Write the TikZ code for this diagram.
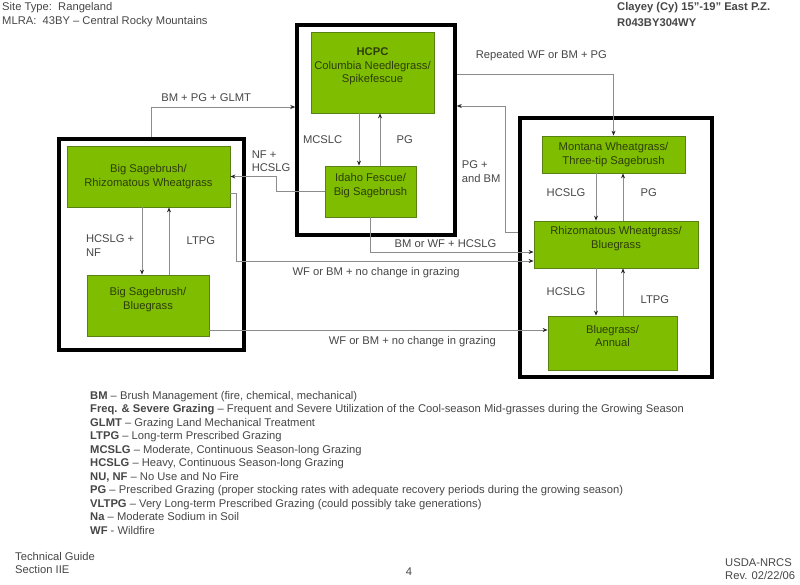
\documentclass[tikz,border=0pt]{standalone}
\usepackage{fontspec}
\setmainfont{Liberation Sans}
\usepackage{tikz}
\usetikzlibrary{arrows.meta,positioning}
\definecolor{boxgreen}{RGB}{127,189,0}
\definecolor{boxedge}{RGB}{88,128,18}
\definecolor{boxtext}{RGB}{45,62,8}
\definecolor{linegray}{RGB}{140,140,140}
\definecolor{labelgray}{RGB}{70,70,70}
\newcommand{\stmfont}{\fontsize{11.2}{13.5}\selectfont}
\tikzset{>={Stealth[length=5pt,width=4pt,color=black!85]},
	every node/.style={font=\stmfont}}
\tikzstyle{state}=[draw=black, line width=3.5pt, inner sep=0pt]
\tikzstyle{community}=[draw=boxedge, fill=boxgreen, text=boxtext, align=center,
inner sep=2pt, text depth=14pt, line width=0.8pt]
\tikzstyle{move}=[draw=linegray, line width=0.8pt, text=labelgray, ->]
\tikzstyle{note}=[text=labelgray, inner sep=0pt]

\begin{document}
\begin{tikzpicture}[x=1pt,y=-1pt]
	\useasboundingbox (0,0) rectangle (800,585);
	\node[note, anchor=west] (site) at (2,8) {Site Type:\ \ Rangeland};
	\node[note, anchor=west] (mlra) at (2,22) {MLRA:\ \ 43BY – Central Rocky Mountains};
	\node[note, anchor=west, font=\stmfont\bfseries] (soil) at (617,8) {Clayey (Cy) 15”-19” East P.Z.};
	\node[note, anchor=west, font=\stmfont\bfseries] (esd) at (617,23) {R043BY304WY};
	
	\node[state, minimum width=158, minimum height=210] (hcpcstate) at (376,130) {};
	\node[state, minimum width=185, minimum height=211] (sagestate) at (151.5,244.5) {};
	\node[state, minimum width=192, minimum height=259] (bluestate) at (616,247.5) {};
	
	\node[community, minimum width=123, minimum height=81] (hcpc) at (372.5,72.5)
	{\textbf{HCPC}\\Columbia Needlegrass/\\Spikefescue};
	\node[community, minimum width=91, minimum height=51] (idaho) at (370.5,191.5)
	{Idaho Fescue/\\Big Sagebrush};
	\node[community, minimum width=163, minimum height=61, text depth=] (bsrw) at (148.5,176.5)
	{Big Sagebrush/\\Rhizomatous Wheatgrass};
	\node[community, minimum width=122, minimum height=61] (bsbg) at (148,305.5)
	{Big Sagebrush/\\Bluegrass};
	\node[community, minimum width=143, minimum height=37, text depth=] (mwts) at (613.5,154.5)
	{Montana Wheatgrass/\\Three-tip Sagebrush};
	\node[community, minimum width=164, minimum height=47] (rwbg) at (616,244.5)
	{Rhizomatous Wheatgrass/\\Bluegrass};
	\node[community, minimum width=129, minimum height=54] (bgan) at (612.5,343)
	{Bluegrass/\\Annual};
	
	\draw[move] ([xshift=-13.5pt]hcpc.south) -- ([xshift=-13.5pt]hcpc.south |- idaho.north)
	node[midway, left=13pt] {MCSLC};
	\draw[move, <-] ([xshift=7.5pt]hcpc.south) -- ([xshift=7.5pt]hcpc.south |- idaho.north)
	node[midway, right=13pt] {PG};
	\draw[move] ([xshift=-6.5pt]bsrw.south) -- ([xshift=-6.5pt]bsrw.south |- bsbg.north)
	node[pos=0.57, left=4pt, align=left] {HCSLG +\\NF};
	\draw[move, <-] ([xshift=20.5pt]bsrw.south) -- ([xshift=20.5pt]bsrw.south |- bsbg.north)
	node[midway, right=14pt] {LTPG};
	\draw[move] ([xshift=-17.5pt]mwts.south) -- ([xshift=-17.5pt]mwts.south |- rwbg.north)
	node[pos=0.4, left=7pt] {HCSLG};
	\draw[move, <-] ([xshift=9.5pt]mwts.south) -- ([xshift=9.5pt]mwts.south |- rwbg.north)
	node[pos=0.4, right=14pt] {PG};
	\draw[move] ([xshift=-20pt]rwbg.south) -- ([xshift=-20pt]rwbg.south |- bgan.north)
	node[midway, left=7pt] {HCSLG};
	\draw[move, <-] ([xshift=7pt]rwbg.south) -- ([xshift=7pt]rwbg.south |- bgan.north)
	node[pos=0.67, right=14pt] {LTPG};
	
	\draw[move] (sagestate.north) |- ([yshift=23pt]hcpcstate.west)
	node[pos=0.69, above=2pt] {BM + PG + GLMT};
	\draw[move] ([yshift=56pt]hcpcstate.east) -| (mwts.north)
	node[pos=0.27, above=9pt] {Repeated WF or BM + PG};
	\draw[move] ([yshift=15.5pt]bluestate.west) -- ++(-13,0)
	|- node[pos=0.24, left=1pt, align=left] {PG +\\and BM} ([yshift=24pt]hcpcstate.east);
	\draw[move] (idaho.west) -- ++(-48,0)
	|- node[pos=0.56, above=1pt, align=left] {NF +\\HCSLG} (bsrw.east);
	\draw[move] (idaho.south) |- ([yshift=-7.5pt]rwbg.west)
	node[pos=0.73, above=1pt] {BM or WF + HCSLG};
	\draw[move] ([yshift=-16.5pt]bsrw.east) -- ++(6,0) |- ([yshift=-16.5pt]rwbg.west)
	node[pos=0.735, below=3pt] {WF or BM + no change in grazing};
	\draw[move] ([yshift=-24.5pt]bsbg.east) -- ([yshift=-24.5pt]bsbg.east -| bgan.west)
	node[pos=0.6, below=3pt] {WF or BM + no change in grazing};
	
	\node[note, anchor=north west, align=left] (legend) at (90,391)
	{\textbf{BM} – Brush Management (fire, chemical, mechanical)\\
		\textbf{Freq. \& Severe Grazing} – Frequent and Severe Utilization of the Cool-season Mid-grasses during the Growing Season\\
		\textbf{GLMT} – Grazing Land Mechanical Treatment\\
		\textbf{LTPG} – Long-term Prescribed Grazing\\
		\textbf{MCSLG} – Moderate, Continuous Season-long Grazing\\
		\textbf{HCSLG} – Heavy, Continuous Season-long Grazing\\
		\textbf{NU, NF} – No Use and No Fire\\
		\textbf{PG} – Prescribed Grazing (proper stocking rates with adequate recovery periods during the growing season)\\
		\textbf{VLTPG} – Very Long-term Prescribed Grazing (could possibly take generations)\\
		\textbf{Na} – Moderate Sodium in Soil\\
		\textbf{WF} - Wildfire};
	
	\node[note, anchor=north west, align=left] (guide) at (15,552) {Technical Guide\\Section IIE};
	\node[note] (page) at (409,572) {4};
	\node[note, anchor=north west, align=left] (nrcs) at (725,558) {USDA-NRCS\\Rev. 02/22/06};
\end{tikzpicture}
\end{document}
